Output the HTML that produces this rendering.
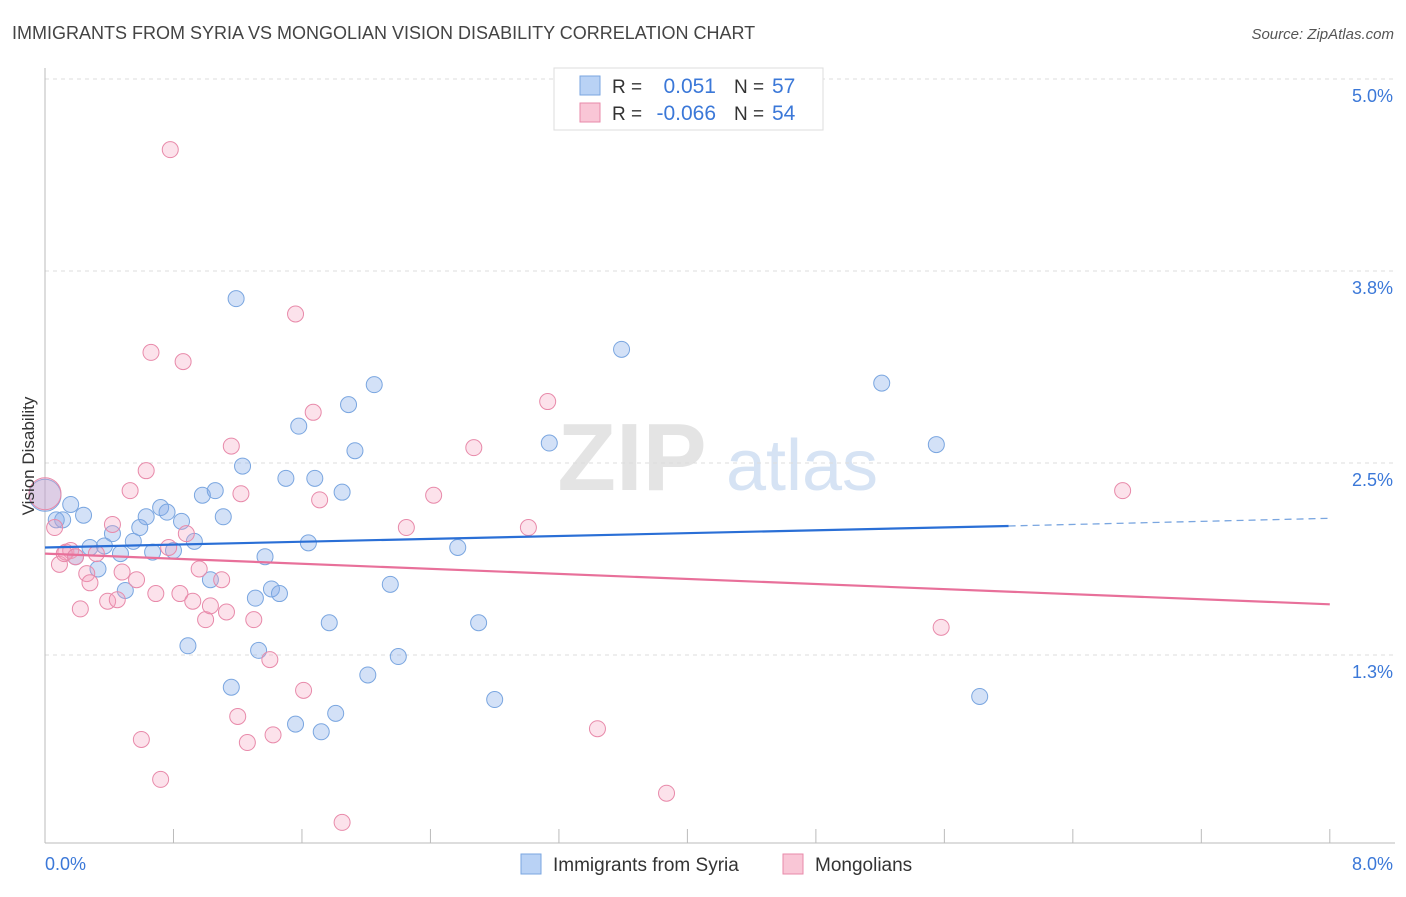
<!DOCTYPE html>
<html><head><meta charset="utf-8"><style>
body{margin:0;background:#fff;font-family:"Liberation Sans",sans-serif;}
svg text{font-family:"Liberation Sans",sans-serif;}
</style></head><body>
<svg id="chart" width="1406" height="892" viewBox="0 0 1406 892" xmlns="http://www.w3.org/2000/svg">
<text x="12" y="39" font-size="18" fill="#444">IMMIGRANTS FROM SYRIA VS MONGOLIAN VISION DISABILITY CORRELATION CHART</text>
<text x="1394" y="39" font-size="15" fill="#555" text-anchor="end" font-style="italic">Source: ZipAtlas.com</text>
<g>
<text x="632" y="490" font-size="96" fill="#e4e4e4" font-family="Liberation Serif" text-anchor="middle" font-weight="bold">ZIP</text>
<text x="802" y="490" font-size="72" fill="#d6e3f4" text-anchor="middle">atlas</text>
</g>
<g id="grid"></g>
<g id="axes"></g>
<g id="marks"></g>
<g id="trends"></g>
<text transform="translate(34,456) rotate(-90)" font-size="17" fill="#333" text-anchor="middle">Vision Disability</text>
<g>
<rect x="554" y="68" width="269" height="62" fill="#fff" stroke="#ddd"/>
<rect x="580" y="76" width="20" height="19" fill="#b9d2f5" stroke="#7aa6e0"/>
<rect x="580" y="103" width="20" height="19" fill="#f9c6d6" stroke="#e88aaa"/>
<text x="612" y="93" font-size="19" fill="#333">R =</text>
<text x="716" y="93" font-size="21" fill="#3b78d8" text-anchor="end">0.051</text>
<text x="734" y="93" font-size="19" fill="#333">N =</text>
<text x="772" y="93" font-size="21" fill="#3b78d8">57</text>
<text x="612" y="120" font-size="19" fill="#333">R =</text>
<text x="716" y="120" font-size="21" fill="#3b78d8" text-anchor="end">-0.066</text>
<text x="734" y="120" font-size="19" fill="#333">N =</text>
<text x="772" y="120" font-size="21" fill="#3b78d8">54</text>
</g>
<g>
<rect x="521" y="854" width="20" height="20" fill="#b9d2f5" stroke="#7aa6e0"/>
<text x="553" y="871" font-size="19" fill="#333">Immigrants from Syria</text>
<rect x="783" y="854" width="20" height="20" fill="#f9c6d6" stroke="#e88aaa"/>
<text x="815" y="871" font-size="19" fill="#333">Mongolians</text>
</g>
</svg>
<script>
const yTicks=[5.0,3.75,2.5,1.25];
const yTickLabels=["5.0%","3.8%","2.5%","1.3%"];
const xTickLabels=["0.0%","8.0%"];
const syriaX=[0.00,0.11,0.16,0.24,0.28,0.33,0.37,0.42,0.47,0.50,0.55,0.59,0.63,0.67,0.72,0.76,0.80,0.85,0.89,0.93,0.98,1.03,1.06,1.11,1.16,1.19,1.23,1.31,1.33,1.37,1.41,1.46,1.50,1.56,1.58,1.64,1.68,1.72,1.77,1.81,1.85,1.89,1.93,2.01,2.05,2.15,2.20,2.57,2.70,2.80,3.14,3.59,5.21,5.55,5.82,0.07,0.19];
const syriaY=[2.29,2.13,2.23,2.16,1.95,1.81,1.96,2.04,1.91,1.67,1.99,2.08,2.15,1.92,2.21,2.18,1.93,2.12,1.31,1.99,2.29,1.74,2.32,2.15,1.04,3.57,2.48,1.62,1.28,1.89,1.68,1.65,2.40,0.80,2.74,1.98,2.40,0.75,1.46,0.87,2.31,2.88,2.58,1.12,3.01,1.71,1.24,1.95,1.46,0.96,2.63,3.24,3.02,2.62,0.98,2.13,1.89];
const mongX=[0.00,0.06,0.09,0.13,0.16,0.22,0.26,0.28,0.32,0.39,0.42,0.45,0.48,0.53,0.57,0.60,0.63,0.66,0.69,0.72,0.78,0.84,0.86,0.88,0.92,0.96,1.00,1.03,1.10,1.13,1.16,1.20,1.22,1.26,1.30,1.40,1.42,1.56,1.61,1.67,1.71,1.85,2.25,2.42,2.67,3.01,3.13,3.44,3.87,5.58,6.71,0.12,0.19,0.77];
const mongY=[2.30,2.08,1.84,1.92,1.93,1.55,1.78,1.72,1.91,1.60,2.10,1.61,1.79,2.32,1.74,0.70,2.45,3.22,1.65,0.44,4.54,1.65,3.16,2.04,1.60,1.81,1.48,1.57,1.74,1.53,2.61,0.85,2.30,0.68,1.48,1.22,0.73,3.47,1.02,2.83,2.26,0.16,2.08,2.29,2.60,2.08,2.90,0.77,0.35,1.43,2.32,1.91,1.89,1.95];
const syriaTrend=[1.95,2.09,2.14];
const mongTrend=[1.91,1.58];
const NS="http://www.w3.org/2000/svg";
function sx(v){return 45+v*160.6;}
function sy(v){return 463-(v-2.5)*153.6;}
function mk(tag,attrs,parent){const e=document.createElementNS(NS,tag);for(const k in attrs)e.setAttribute(k,attrs[k]);document.getElementById(parent).appendChild(e);return e;}
yTicks.forEach((t,i)=>{
 const l=mk('line',{x1:45,x2:1395,y1:sy(t),y2:sy(t),stroke:'#ddd','stroke-dasharray':'4,4'},'grid');
 
 
 const tx=mk('text',{x:1393,y:sy(t)+23,'font-size':18,fill:'#3b78d8','text-anchor':'end'},'grid');
 tx.textContent=yTickLabels[i];
 
 
});
let ax=mk('line',{x1:45,x2:1395,y1:843,y2:843,stroke:'#bbb'},'axes');


let ay=mk('line',{x1:45,x2:45,y1:68,y2:843,stroke:'#bbb'},'axes');


for(let k=1;k<=10;k++){
 const t=mk('line',{x1:sx(k*0.8),x2:sx(k*0.8),y1:829,y2:843,stroke:'#bbb'},'axes');
 
 
}
[[0,'start',45],[8,'end',1393]].forEach((d,i)=>{
 const t=mk('text',{x:d[2],y:870,'font-size':18,fill:'#3b78d8','text-anchor':d[1]},'axes');
 t.textContent=xTickLabels[i];
 
 
});
function pts(X,Y,fill,stroke,name){
 X.forEach((x,i)=>{
  const big=(x===0);
  const c=mk('circle',{cx:sx(x),cy:sy(Y[i]),r:big?16:8,fill:fill,stroke:stroke,'stroke-width':1},'marks');
  
  
 });
}
pts(syriaX,syriaY,'rgba(130,170,232,0.35)','#7aa6e0','syria-point');
pts(mongX,mongY,'rgba(244,160,190,0.3)','#e88aaa','mongolian-point');
let t1=mk('line',{x1:sx(0),y1:sy(syriaTrend[0]),x2:sx(6),y2:sy(syriaTrend[1]),stroke:'#2a6fd6','stroke-width':2.2},'trends');


let t2=mk('line',{x1:sx(6),y1:sy(syriaTrend[1]),x2:sx(8),y2:sy(syriaTrend[2]),stroke:'#7aa6e0','stroke-width':1.3,'stroke-dasharray':'7,5'},'trends');


let t3=mk('line',{x1:sx(0),y1:sy(mongTrend[0]),x2:sx(8),y2:sy(mongTrend[1]),stroke:'#e8709a','stroke-width':2.2},'trends');


</script>
</body></html>
